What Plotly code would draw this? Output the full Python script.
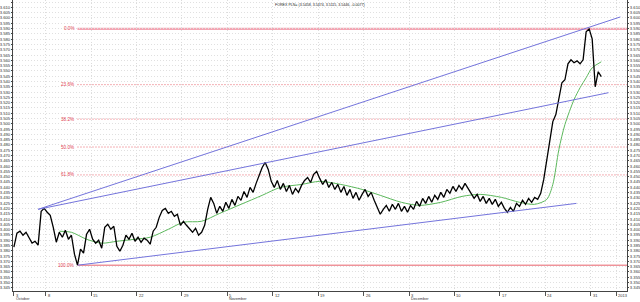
import plotly.graph_objects as go

title_text = "FOREX PLN= (3.5458, 3.5474, 3.5115, 3.5446, -0.0077)"

# 8-hour bars, close prices
price = [3.3834, 3.3966, 3.3985, 3.3947, 3.3975, 3.3928, 3.3872, 3.3890, 3.3853, 3.4173,
         3.4201, 3.4164, 3.4135, 3.4022, 3.3881, 3.3975, 3.3928, 3.3994, 3.3909, 3.3947,
         3.3768, 3.3664, 3.3815, 3.3777, 3.3956, 3.4003, 3.3909, 3.3872, 3.3900, 3.3824,
         3.4022, 3.4051, 3.4003, 3.4032, 3.3843, 3.3796, 3.3853, 3.3947, 3.3909, 3.3966,
         3.3890, 3.3928, 3.3881, 3.3919, 3.3900, 3.3862, 3.3985, 3.4022, 3.4116, 3.4182,
         3.4201, 3.4154, 3.4173, 3.4126, 3.4145, 3.4041, 3.4079, 3.4041, 3.4003, 3.3975,
         3.4013, 3.3947, 3.3975, 3.4041, 3.4192, 3.4305, 3.4248, 3.4154, 3.4220, 3.4173,
         3.4258, 3.4201, 3.4286, 3.4229, 3.4314, 3.4277, 3.4361, 3.4305, 3.4399, 3.4352,
         3.4437, 3.4512, 3.4587, 3.4635, 3.4569, 3.4456, 3.4399, 3.4465, 3.4380, 3.4437,
         3.4361, 3.4418, 3.4333, 3.4390, 3.4352, 3.4418, 3.4465, 3.4493, 3.4446, 3.4522,
         3.4550, 3.4484, 3.4427, 3.4474, 3.4399, 3.4446, 3.4380, 3.4427, 3.4352, 3.4408,
         3.4324, 3.4380, 3.4295, 3.4352, 3.4277, 3.4333, 3.4380, 3.4314, 3.4352, 3.4277,
         3.4211, 3.4145, 3.4192, 3.4229, 3.4173, 3.4239, 3.4192, 3.4248, 3.4173, 3.4220,
         3.4164, 3.4229, 3.4192, 3.4267, 3.4220, 3.4295, 3.4248, 3.4314, 3.4258, 3.4324,
         3.4286, 3.4352, 3.4305, 3.4380, 3.4343, 3.4408, 3.4361, 3.4418, 3.4380, 3.4437,
         3.4390, 3.4343, 3.4295, 3.4333, 3.4267, 3.4314, 3.4248, 3.4295, 3.4239, 3.4286,
         3.4220, 3.4258, 3.4201, 3.4164, 3.4211, 3.4173, 3.4248, 3.4220, 3.4277, 3.4239,
         3.4295, 3.4258, 3.4305, 3.4286, 3.4343, 3.4474, 3.4663, 3.4870, 3.5021, 3.5087,
         3.5228, 3.5388, 3.5416, 3.5567, 3.5605, 3.5577, 3.5595, 3.5567, 3.5605, 3.5869,
         3.5897, 3.5803, 3.5350, 3.5492, 3.5446]

# moving average
ma_bars = [15, 19, 24, 29, 34, 40, 45, 51, 56, 62, 68, 75, 82, 88, 95, 101, 108, 115, 121, 128,
           134, 141, 148, 154, 161, 167, 172, 176, 178, 180, 182, 185, 187, 189, 191, 194]
ma_vals = [3.3985, 3.3975, 3.3909, 3.3872, 3.3890, 3.3909, 3.3928, 3.4003, 3.4070, 3.4079,
           3.4154, 3.4239, 3.4324, 3.4399, 3.4427, 3.4456, 3.4427, 3.4380, 3.4324, 3.4258,
           3.4229, 3.4258, 3.4314, 3.4333, 3.4305, 3.4258, 3.4239, 3.4286, 3.4427, 3.4757,
           3.4993, 3.5228, 3.5341, 3.5435, 3.5529, 3.5586]

# hand-drawn trend lines (bar, price)
trend_a_x = [8, 200.3]
trend_a_y = [3.4192, 3.6010]
trend_b_x = [8, 196.4]
trend_b_y = [3.4192, 3.5294]
trend_c_x = [21.1, 185.8]
trend_c_y = [3.3664, 3.4248]

fib_ratios = [0.0, 0.236, 0.382, 0.5, 0.618, 1.0]
fib_labels = ["0.0%", "23.6%", "38.2%", "50.0%", "61.8%", "100.0%"]

week_ticks = [0, 10.5, 25.5, 40.5, 55.5, 70.5, 85.5, 100.5, 115.5, 130.5, 145.5, 160.5, 175.5, 190.5, 199]
week_labels = ["3", "8", "15", "22", "29", "5", "12", "19", "26", "3", "10", "17", "24", "31", "2013"]
month_ticks = [0, 70.5, 130.5]
month_labels = ["October", "November", "December"]

x_max = 202.5
y_range = [3.342, 3.617]

bars = list(range(len(price)))
hi = max(price)
lo = min(price)
lo_bar = price.index(lo)

fig = go.Figure()

fig.add_trace(go.Scatter(x=trend_a_x, y=trend_a_y, mode="lines", yaxis="y2",
                         line=dict(color="#7474dc", width=1), hoverinfo="skip"))
fig.add_trace(go.Scatter(x=trend_b_x, y=trend_b_y, mode="lines", yaxis="y2",
                         line=dict(color="#7474dc", width=1), hoverinfo="skip"))
fig.add_trace(go.Scatter(x=trend_c_x, y=trend_c_y, mode="lines", yaxis="y2",
                         line=dict(color="#7474dc", width=1), hoverinfo="skip"))
fig.add_trace(go.Scatter(x=ma_bars, y=ma_vals, mode="lines",
                         line=dict(color="#5cb85c", width=1, shape="spline", smoothing=0.8)))
fig.add_trace(go.Scatter(x=bars, y=price, mode="lines",
                         line=dict(color="black", width=1.3)))

shapes = []
annotations = []
for r, lab in zip(fib_ratios, fib_labels):
    lvl = hi - r * (hi - lo)
    if r == 0.0:
        ln = dict(color="#f4a6b4", width=2.2)
    elif r == 1.0:
        ln = dict(color="#e8606a", width=1)
    else:
        ln = dict(color="#e8606a", width=1, dash="1px,2px")
    shapes.append(dict(type="line", xref="x", yref="y", x0=lo_bar, x1=x_max, y0=lvl, y1=lvl,
                       line=ln, layer="below"))
    annotations.append(dict(x=lo_bar, y=lvl, xref="x", yref="y", text=lab, showarrow=False,
                            xanchor="right", yanchor="middle", xshift=-1,
                            font=dict(size=4.6, color="#e04050")))

for t, lab in zip(week_ticks, week_labels):
    annotations.append(dict(x=t, y=0, xref="x", yref="paper", text=lab, showarrow=False,
                            xanchor="left", yanchor="top", xshift=0, yshift=0,
                            font=dict(size=4.0, color="#333")))
for t, lab in zip(month_ticks, month_labels):
    annotations.append(dict(x=t, y=0, xref="x", yref="paper", text=lab, showarrow=False,
                            xanchor="left", yanchor="top", xshift=0, yshift=-4.2,
                            font=dict(size=3.8, color="#333")))

annotations.append(dict(x=0.5, y=1, xref="paper", yref="paper", text=title_text, showarrow=False,
                        xanchor="center", yanchor="top", yshift=-1,
                        font=dict(size=3.6, color="#222")))

yax = dict(range=y_range, dtick=0.005, tick0=3.0, tickformat=".3f", ticks="outside", ticklen=1,
           tickcolor="#444", showline=True, linecolor="#444", linewidth=1, zeroline=False,
           tickfont=dict(size=4.2, color="#333"))

fig.update_layout(
    width=640, height=302,
    margin=dict(l=13, r=13, t=0, b=11),
    paper_bgcolor="white", plot_bgcolor="white",
    showlegend=False,
    font=dict(family="Liberation Sans, Arial, sans-serif", size=4.2, color="#333"),
    xaxis=dict(range=[-0.3, x_max], tickvals=week_ticks, showticklabels=False, ticks="outside",
               ticklen=4, tickcolor="#555", showgrid=True, gridcolor="#dcdcdc", griddash="1px,2px",
               gridwidth=1, showline=True, linecolor="#444", zeroline=False),
    yaxis=dict(**yax, side="left", showgrid=True, gridcolor="#e0e0e0", griddash="1px,2px", gridwidth=1),
    yaxis2=dict(**yax, side="right", overlaying="y", matches="y", showgrid=False),
    shapes=shapes,
    annotations=annotations,
)

fig.write_html("out.html")
